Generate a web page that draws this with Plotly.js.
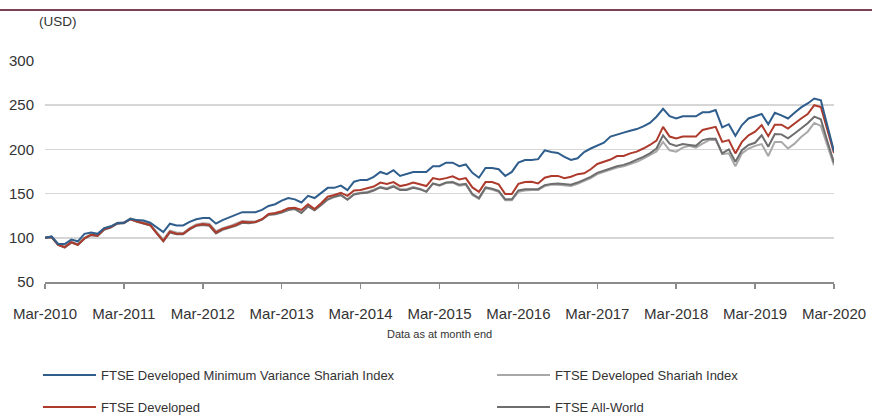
<!DOCTYPE html>
<html>
<head>
<meta charset="utf-8">
<script src="https://cdn.plot.ly/plotly-3.0.1.min.js"></script>
<style>
html,body{margin:0;padding:0;background:#fff;}
#chart{width:872px;height:415px;}
</style>
</head>
<body>
<div id="chart"></div>
<script>
// Month index 0 = Mar-2010 ... 120 = Mar-2020 (month-end values, rebased to 100)
const tickLabels = ["Mar-2010","Mar-2011","Mar-2012","Mar-2013","Mar-2014","Mar-2015","Mar-2016","Mar-2017","Mar-2018","Mar-2019","Mar-2020"];

const minVarShariah = [
  100,101.5,93,93,98,96,104.5,106,104.5,111,
  113,116.5,117,121.5,120,119.5,117,112,106.5,116,114,114,
  118,121,122.5,122.5,116,120,123,125.5,129,129,129,131.5,
  136,138,142,145,143.5,140,147.5,145,150.5,156.5,156.5,159,
  154,163.5,165.5,165.5,169,174.5,172,176.5,170,172.5,174.5,174.5,
  174.5,181,181,185,185,181,183,173.5,168,179,179,177.5,
  170,174.5,185,188,188,189,199,197,196,191.5,188,190,
  197,201,204,207.5,214.5,217,219,221,223,226,230,237,
  246,237.5,235,237.5,237.5,237.5,242,242,244.5,225,228.5,215.5,
  227.5,235,237.5,240,228.5,241.5,238.5,235,241.5,247.5,252,257.5,
  255.5,227,197.5
];

const developed = [
  100,101,92,89.5,95,92,99.5,103.5,102.5,110,
  112,116.5,117,121,118.5,116.5,114.5,105,96.5,107,104.5,104.5,
  110,114,115.5,114.5,106,110,112,114.5,118,117.5,118,121,
  127,128,130,133.5,134,131.5,138,132.5,139,146.5,148.5,151,
  147.5,153.5,154,156,158,162.5,161,163,158.5,160,162.5,160.5,
  158.5,167.5,166,167.5,169.5,166,167.5,157,152,163,163,160.5,
  149.5,149.5,161,163,163.5,161.5,168,170,170,167.5,169,172,
  173,177.5,183.5,186,188.5,192.5,192.5,195.5,197.5,201,205,210,
  225.5,214.5,212.5,214.5,214.5,214.5,222,223.5,225.5,208.5,210.5,195.5,
  208.5,216,220,227.5,215,228,228,223.5,229.5,235,240,250,
  248,222,196
];

const developedShariah = [
  100,101,92.5,90,95.5,93,100,104,103,110.5,
  112.5,117,117.5,122,119.5,117.5,115.5,106.5,98,108,106,105.5,
  111,115,116.5,116,107.5,111,113,116,119,118.5,118.5,121,
  126,127,129,132,133,128.5,135.5,131.5,137,143,146,148,
  143.5,149.5,151,152,154.5,157.5,156,159,155,155,157.5,155.5,
  152.5,161,159,162,162.5,159,160,148.5,144,156,154.5,152,
  142.5,142.5,152,153.5,154,154,158.5,160,160,159,158.5,161,
  164,167.5,172,174.5,176.5,179.5,181,183.5,186,189.5,193.5,197.5,
  208.5,199,197.5,202,204,202,206.5,210.5,211,194.5,195.5,181,
  195.5,201,204,206,192.5,208.5,208.5,201,206.5,214,220,230,
  226.5,204,182
];

const allWorld = [
  100,100.5,92,89,94.5,92,99,103,102,109,
  111.5,116,116.5,121,118,116,114,105,96,106,104,104,
  109.5,113.5,114.5,113.5,105,109,111,113.5,117,116.5,117.5,120.5,
  126,126.5,128.5,131.5,132.5,128,135.5,131,137,143.5,146.5,148.5,
  143,149,150.5,151,153.5,157,155,158,154,154,156.5,155,
  152,161.5,159.5,162.5,163,160,161,149.5,145,157,155.5,153,
  143.5,143.5,153.5,155,155,155,159.5,161,161.5,160.5,160,162.5,
  165.5,169,173.5,176,178,181,182.5,185,188.5,191.5,195.5,201,
  216,206.5,204,206,205,204,210.5,212,212,195.5,200,186,
  199,205,207.5,216,203,217.5,217,212.5,218,223.5,229.5,237,
  234,209,185
];

const monthIdx = minVarShariah.map((_, i) => i);
const tickVals = tickLabels.map((_, i) => i * 12);

const FONT = "Liberation Sans, Arial, Helvetica, sans-serif";
const TXT = "#333333";

const traces = [
  {name: "FTSE Developed Shariah Index", y: developedShariah, color: "#A8A8A8", legend: "legend2"},
  {name: "FTSE All-World", y: allWorld, color: "#6E6E6E", legend: "legend4"},
  {name: "FTSE Developed", y: developed, color: "#AE3A2C", legend: "legend3"},
  {name: "FTSE Developed Minimum Variance Shariah Index", y: minVarShariah, color: "#2F5D8C", legend: "legend"}
].map(t => ({
  type: "scatter", mode: "lines", x: monthIdx, y: t.y, name: t.name,
  line: {color: t.color, width: 2}, legend: t.legend,
  hoverinfo: "skip"
}));

const legendBase = {
  orientation: "h", xref: "container", yref: "container",
  xanchor: "left", yanchor: "middle",
  itemwidth: 53,
  font: {family: FONT, size: 13, color: TXT},
  bgcolor: "rgba(0,0,0,0)", borderwidth: 0,
  itemclick: false, itemdoubleclick: false
};
const col1 = 38 / 872, col2 = 492 / 872;
const row1 = 1 - 375 / 415, row2 = 1 - 407 / 415;

const layout = {
  width: 872, height: 415,
  margin: {l: 45, r: 38, t: 61, b: 133},
  paper_bgcolor: "#ffffff", plot_bgcolor: "#ffffff",
  font: {family: FONT, color: TXT},
  showlegend: true,
  xaxis: {
    range: [0, 120], tickmode: "array", tickvals: tickVals, ticktext: tickLabels,
    showgrid: false, zeroline: false,
    showline: true, linecolor: "#8C8C8C", linewidth: 1.5,
    ticks: "outside", ticklen: 5, tickcolor: "#8C8C8C", tickwidth: 1.5,
    ticklabelstandoff: 12,
    tickfont: {family: FONT, size: 15, color: TXT}
  },
  yaxis: {
    range: [50, 300], dtick: 50, tick0: 50,
    showgrid: true, gridcolor: "#D6D6D6", gridwidth: 1.5,
    zeroline: false, showline: false, ticks: "",
    ticklabelstandoff: 10,
    tickfont: {family: FONT, size: 15, color: TXT}
  },
  legend: Object.assign({}, legendBase, {x: col1, y: row1}),
  legend2: Object.assign({}, legendBase, {x: col2, y: row1}),
  legend3: Object.assign({}, legendBase, {x: col1, y: row2}),
  legend4: Object.assign({}, legendBase, {x: col2, y: row2}),
  shapes: [{
    type: "line", xref: "paper", yref: "paper",
    x0: -45 / 789, x1: (872 - 45) / 789,
    y0: (282 - 10) / 221, y1: (282 - 10) / 221,
    line: {color: "#7A4256", width: 2}
  }],
  annotations: [
    {text: "(USD)", xref: "paper", yref: "paper", x: 37 / 789 - 45 / 789, y: (282 - 22) / 221,
     xanchor: "left", yanchor: "middle", showarrow: false,
     font: {family: FONT, size: 13.5, color: TXT}},
    {text: "Data as at month end", xref: "paper", yref: "paper", x: 0.5, y: (282 - 334) / 221,
     xanchor: "center", yanchor: "middle", showarrow: false,
     font: {family: FONT, size: 11, color: TXT}}
  ]
};

Plotly.newPlot("chart", traces, layout, {displayModeBar: false, staticPlot: true});
</script>
</body>
</html>
